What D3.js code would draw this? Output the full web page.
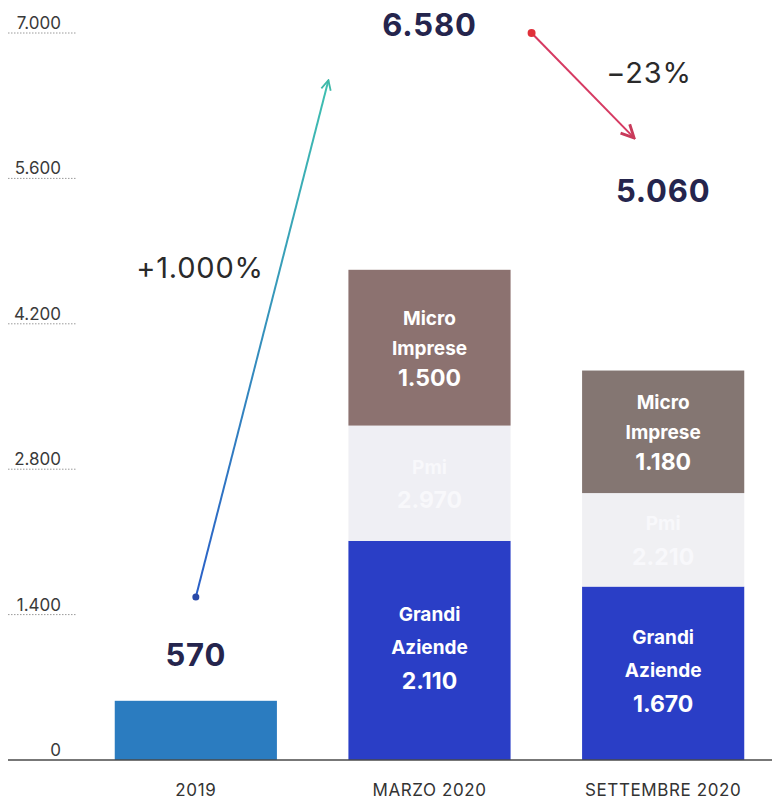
<!DOCTYPE html>
<html><head><meta charset="utf-8">
<script src="https://cdn.jsdelivr.net/npm/d3@7"></script>
<style>body{margin:0;background:#fff}svg{display:block}text{font-family:Inter,"Open Sans",sans-serif}</style>
</head><body><svg id="c" width="772" height="802"></svg>
<script>
const categories = ["2019", "MARZO 2020", "SETTEMBRE 2020"];
const seriesNames = ["Totale 2019", "Grandi Aziende", "Pmi", "Micro Imprese"];
const totale2019 = [570, 0, 0];
const grandiAziende = [0, 2110, 1670];
const pmi = [0, 1110, 900];
const microImprese = [0, 1500, 1180];
const segLabels = {
  "Grandi Aziende": [null, ["Grandi","Aziende","2.110"], ["Grandi","Aziende","1.670"]],
  "Pmi": [null, ["Pmi","2.970"], ["Pmi","2.210"]],
  "Micro Imprese": [null, ["Micro","Imprese","1.500"], ["Micro","Imprese","1.180"]]
};
const totals = [570, 6580, 5060];
const totalLabels = ["570", "6.580", "5.060"];
const totalLabelAt = [1010, 7080, 5480];
const yTicks = [0, 1400, 2800, 4200, 5600, 7000];
const yTickLabels = ["0", "1.400", "2.800", "4.200", "5.600", "7.000"];
const growth = [{from: 1570, to: 6545, label: "+1.000%"}, {from: 7000, to: 5990, label: "\u221223%"}];

const svg = d3.select("#c");
const x = d3.scaleBand().domain(categories).range([79, 780]).paddingInner(0.306).paddingOuter(0.153);
const y = d3.scaleLinear().domain([0, 7000]).range([760, 33]);

// y ticks
const g = svg.append("g");
yTicks.forEach((t, i) => {
  if (t > 0) g.append("line").attr("x1", 8).attr("x2", 77).attr("y1", y(t)).attr("y2", y(t))
    .attr("stroke", "#9a9a9a").attr("stroke-width", 1).attr("stroke-dasharray", "1.5,1.5");
  g.append("text").attr("x", 61).attr("y", y(t) - 4).attr("text-anchor", "end")
    .attr("font-size", 17).attr("fill", "#3a3a3a").text(yTickLabels[i]);
});

// stacked data
const rows = categories.map((c, i) => ({cat: c, "Totale 2019": totale2019[i], "Grandi Aziende": grandiAziende[i], "Pmi": pmi[i], "Micro Imprese": microImprese[i]}));
const stack = d3.stack().keys(seriesNames)(rows);
const colors = {
  "Totale 2019": ["#2b7cc0"],
  "Grandi Aziende": ["#2a3ec6", "#2a3ec6", "#2a3ec6"],
  "Pmi": ["#efeff4", "#efeff4", "#f0f0f3"],
  "Micro Imprese": ["#8c7270", "#8c7270", "#847672"]
};
stack.forEach(s => {
  s.forEach((d, i) => {
    if (d[1] - d[0] <= 0) return;
    const c = colors[s.key][Math.min(i, colors[s.key].length - 1)];
    svg.append("rect").attr("x", x(categories[i])).attr("width", x.bandwidth())
      .attr("y", y(d[1])).attr("height", y(d[0]) - y(d[1])).attr("fill", c);
    const lab = segLabels[s.key] && segLabels[s.key][i];
    if (lab) {
      const cx = x(categories[i]) + x.bandwidth() / 2;
      const mid = (y(d[0]) + y(d[1])) / 2;
      const lh = s.key === "Micro Imprese" ? 30 : 33;
      const start = mid - (lab.length - 1) * lh / 2 - (s.key === "Grandi Aziende" ? 3 : 0);
      const fill = s.key === "Pmi" ? "#f8f8fb" : "#ffffff";
      lab.forEach((t, k) => {
        const isNum = k === lab.length - 1;
        svg.append("text").attr("x", cx).attr("y", start + k * lh).attr("dy", "0.36em")
          .attr("text-anchor", "middle").attr("font-weight", 700)
          .attr("font-size", isNum ? 23 : 19).attr("fill", fill).text(t);
      });
    }
  });
});

// baseline
svg.append("line").attr("x1", 8).attr("x2", 772).attr("y1", y(0)).attr("y2", y(0))
  .attr("stroke", "#4a4a4a").attr("stroke-width", 1.5);

// category labels
categories.forEach(c => {
  svg.append("text").attr("x", x(c) + x.bandwidth() / 2).attr("y", 796).attr("text-anchor", "middle")
    .attr("font-size", 17).attr("letter-spacing", 0.6).attr("fill", "#333").text(c);
});

// totals
categories.forEach((c, i) => {
  svg.append("text").attr("x", x(c) + x.bandwidth() / 2).attr("y", y(totalLabelAt[i])).attr("dy", "0.36em")
    .attr("text-anchor", "middle").attr("font-size", 31).attr("font-weight", 700).attr("letter-spacing", 0.8)
    .attr("fill", "#25254d").text(totalLabels[i]);
});

// arrows
const defs = svg.append("defs");
const lg = defs.append("linearGradient").attr("id", "g1").attr("gradientUnits", "userSpaceOnUse");
const a1 = {x1: x(categories[0]) + x.bandwidth() / 2, y1: y(growth[0].from), x2: x(categories[1]) - 20, y2: y(growth[0].to)};
lg.attr("x1", a1.x1).attr("y1", a1.y1).attr("x2", a1.x2).attr("y2", a1.y2);
lg.append("stop").attr("offset", 0).attr("stop-color", "#2a5fc8");
lg.append("stop").attr("offset", 1).attr("stop-color", "#3fc0b0");
defs.append("marker").attr("id", "m1").attr("viewBox", "0 0 10 10").attr("refX", 9).attr("refY", 5)
  .attr("markerWidth", 6).attr("markerHeight", 6).attr("orient", "auto")
  .append("path").attr("d", "M1,1 L9,5 L1,9").attr("fill", "none").attr("stroke", "#3fb8a8").attr("stroke-width", 1.5);
defs.append("marker").attr("id", "m2").attr("viewBox", "0 0 10 10").attr("refX", 9).attr("refY", 5)
  .attr("markerWidth", 8).attr("markerHeight", 8).attr("orient", "auto")
  .append("path").attr("d", "M1,1 L9,5 L1,9").attr("fill", "none").attr("stroke", "#c83a5a").attr("stroke-width", 1.8);

svg.append("line").attr("x1", a1.x1).attr("y1", a1.y1).attr("x2", a1.x2).attr("y2", a1.y2)
  .attr("stroke", "url(#g1)").attr("stroke-width", 2).attr("marker-end", "url(#m1)");
svg.append("circle").attr("cx", a1.x1).attr("cy", a1.y1).attr("r", 3.5).attr("fill", "#2a4aa8");
svg.append("text").attr("x", 200).attr("y", 268).attr("dy", "0.36em").attr("text-anchor", "middle")
  .attr("font-size", 29).attr("letter-spacing", 0.8).attr("fill", "#2a2a2a").text(growth[0].label);

const a2 = {x1: x(categories[1]) + x.bandwidth() + 21, y1: y(growth[1].from), x2: x(categories[2]) + 52, y2: y(growth[1].to)};
svg.append("line").attr("x1", a2.x1).attr("y1", a2.y1).attr("x2", a2.x2).attr("y2", a2.y2)
  .attr("stroke", "#d63a62").attr("stroke-width", 2).attr("marker-end", "url(#m2)");
svg.append("circle").attr("cx", a2.x1).attr("cy", a2.y1).attr("r", 4).attr("fill", "#e0303a");
svg.append("text").attr("x", 649).attr("y", 73).attr("dy", "0.36em").attr("text-anchor", "middle")
  .attr("font-size", 29).attr("letter-spacing", 0.8).attr("fill", "#2a2a2a").text(growth[1].label);
</script></body></html>
